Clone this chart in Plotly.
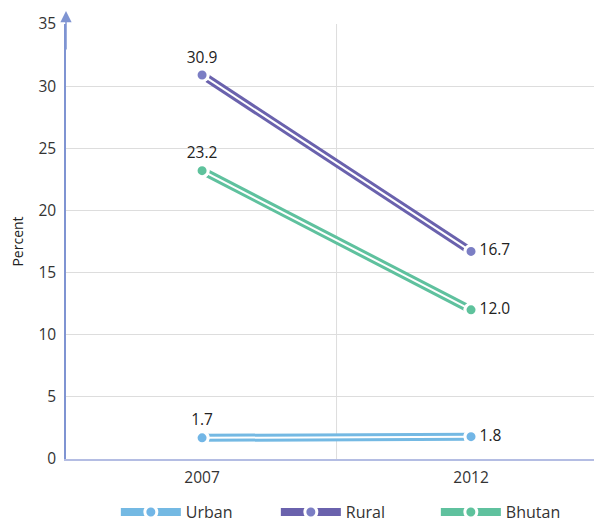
import plotly.graph_objects as go

years = ["2007", "2012"]
x_pos = [0, 1]
series_names = ["Urban", "Rural", "Bhutan"]
urban = [1.7, 1.8]
rural = [30.9, 16.7]
bhutan = [23.2, 12.0]
y_ticks = [0, 5, 10, 15, 20, 25, 30, 35]

line_colors = {"Urban": "#74b9e3", "Rural": "#6a62ad", "Bhutan": "#5fc19e"}
marker_colors = {"Urban": "#72b6e6", "Rural": "#7b7ec4", "Bhutan": "#5ec29c"}
label_pos = ["top center", "middle right"]
values = {"Urban": urban, "Rural": rural, "Bhutan": bhutan}

font = "Open Sans, Noto Sans, sans-serif"
fig = go.Figure()

LW = 8
WW = 2
MS = 12

for name in series_names:
    vals = values[name]
    fig.add_trace(go.Scatter(
        x=x_pos, y=vals, mode="lines+markers+text", name=name,
        line=dict(color=line_colors[name], width=LW),
        marker=dict(color=marker_colors[name], size=MS, line=dict(color="white", width=3)),
        text=[f"{v:.1f}" for v in vals],
        textposition=label_pos,
        textfont=dict(family=font, size=15.5, color="#222"),
        cliponaxis=False))

for name in series_names:
    vals = values[name]
    fig.add_trace(go.Scatter(
        x=x_pos, y=vals, mode="lines", line=dict(color="white", width=WW),
        showlegend=False, hoverinfo="skip"))
    fig.add_trace(go.Scatter(
        x=x_pos, y=vals, mode="markers",
        marker=dict(color=marker_colors[name], size=MS, line=dict(color="white", width=3)),
        showlegend=False, hoverinfo="skip", cliponaxis=False))

# page body has an 8px offset; compensate in the figure size/margins
fig.update_layout(
    width=594, height=514,
    margin=dict(l=58, r=0, t=16, b=63, autoexpand=False),
    paper_bgcolor="white", plot_bgcolor="white",
    font=dict(family=font, size=15, color="#333"),
    xaxis=dict(range=[-0.506, 1.487], tickvals=x_pos, ticktext=years,
               showgrid=False, zeroline=False, showline=True, automargin=False,
               linecolor="#b4bde3", linewidth=1.5, ticks="", ticklabelstandoff=4,
               tickfont=dict(family=font, size=15.5, color="#333")),
    yaxis=dict(range=[0, 35], tickvals=y_ticks, showgrid=True, automargin=False,
               gridcolor="#dddddd", gridwidth=1, zeroline=False,
               showline=True, linecolor="#7f94d2", linewidth=1.5, ticks="",
               ticklabelstandoff=5,
               title=dict(text="Percent", font=dict(family=font, size=14, color="#222"),
                          standoff=12),
               tickfont=dict(family=font, size=15.5, color="#333")),
    legend=dict(orientation="h", x=0.093, xanchor="left", y=-0.122, yanchor="middle",
                font=dict(family=font, size=16, color="#333"),
                itemwidth=60, tracegroupgap=0, entrywidth=85),
    shapes=[
        dict(type="line", xref="x", yref="paper", x0=0.5, x1=0.5, y0=0, y1=1,
             line=dict(color="#dddddd", width=1), layer="below"),
        dict(type="line", xref="paper", yref="paper", x0=0.997, x1=0.997, y0=0, y1=1,
             line=dict(color="#e6e6e6", width=1), layer="below"),
    ],
    annotations=[
        dict(xref="paper", yref="paper", x=0, y=1 + 13 / 435, ax=0, ay=40,
             showarrow=True, arrowhead=2, arrowsize=1.5, arrowwidth=1.5,
             arrowcolor="#7f94d2", text=""),
    ],
)

fig.write_html("out.html")
